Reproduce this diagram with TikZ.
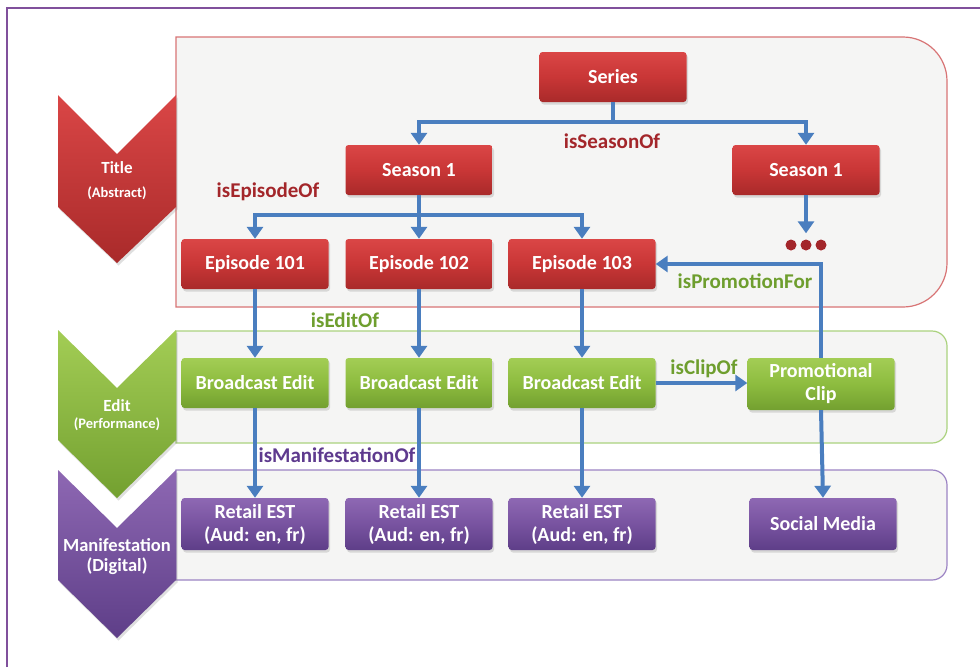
\documentclass[tikz,border=0pt]{standalone}
\usepackage{fontspec}
\setmainfont{Carlito}
\usetikzlibrary{arrows.meta,shadows}
\definecolor{redTop}{HTML}{DA4646}
\definecolor{redMid}{HTML}{C93636}
\definecolor{redBot}{HTML}{A92A2A}
\definecolor{grnTop}{HTML}{A3CD55}
\definecolor{grnMid}{HTML}{8DBC3F}
\definecolor{grnBot}{HTML}{73A030}
\definecolor{purTop}{HTML}{8E68B3}
\definecolor{purMid}{HTML}{7853A0}
\definecolor{purBot}{HTML}{5E3E88}
\definecolor{bandFill}{HTML}{F5F5F4}
\definecolor{redLine}{HTML}{D87475}
\definecolor{grnLine}{HTML}{ABD27E}
\definecolor{purLine}{HTML}{9C84C4}
\definecolor{frameLine}{HTML}{80509C}
\definecolor{arrBlue}{HTML}{4A7EBF}
\definecolor{lblRed}{HTML}{A3262A}
\definecolor{lblGrn}{HTML}{6E9E2E}
\definecolor{lblPur}{HTML}{5E3A8E}
\tikzset{
  box/.style={minimum width=147pt, minimum height=50pt, rounded corners=3pt,
    text=white, align=center, inner sep=0pt,
    font=\fontsize{20}{23}\selectfont\bfseries,
    drop shadow={opacity=0.25, shadow xshift=1.5pt, shadow yshift=-2.5pt}},
  redbox/.style={box, top color=redTop, bottom color=redBot, middle color=redMid},
  grnbox/.style={box, top color=grnTop, bottom color=grnBot, middle color=grnMid},
  purbox/.style={box, top color=purTop, bottom color=purBot, middle color=purMid},
  arr/.style={draw=arrBlue, line width=4pt, -{Triangle[width=16pt,length=12pt]}},
  lbl/.style={font=\fontsize{21}{24}\selectfont\bfseries, inner sep=0pt},
  chevtitle/.style={text=white, font=\fontsize{17}{19}\selectfont\bfseries, inner sep=0pt},
  chevsub/.style={text=white, font=\fontsize{14.5}{16}\selectfont\bfseries, inner sep=0pt},
  chevbig/.style={text=white, font=\fontsize{18.5}{20}\selectfont\bfseries, inner sep=0pt},
}
\begin{document}
\begin{tikzpicture}[x=1pt,y=-1pt]
\useasboundingbox (0,0) rectangle (980,667);
\fill[white] (0,0) rectangle (980,667);
% outer frame
\draw[frameLine, line width=1.5pt] (7,667) -- (7,8) -- (980,8);

% bands
\draw[redLine, line width=1.2pt, fill=bandFill]
  (176,307) -- (176,37) -- (903,37) .. controls (927.3,37) and (947,56.7) .. (947,81)
  -- (947,263) .. controls (947,287.3) and (927.3,307) .. (903,307) -- cycle;
\draw[grnLine, line width=1.2pt, fill=bandFill]
  (176,443) -- (176,331) -- (932,331) .. controls (940.3,331) and (947,337.7) .. (947,346)
  -- (947,428) .. controls (947,436.3) and (940.3,443) .. (932,443) -- cycle;
\draw[purLine, line width=1.2pt, fill=bandFill]
  (176,580) -- (176,470) -- (932,470) .. controls (940.3,470) and (947,476.7) .. (947,485)
  -- (947,565) .. controls (947,573.3) and (940.3,580) .. (932,580) -- cycle;

% chevrons
\shade[top color=redTop, bottom color=redBot, drop shadow={opacity=0.25, shadow xshift=1.5pt, shadow yshift=-2.5pt}]
  (58,95) -- (117,154) -- (176,95) -- (176,207) -- (117,263) -- (58,207) -- cycle;
\shade[top color=grnTop, bottom color=grnBot, drop shadow={opacity=0.25, shadow xshift=1.5pt, shadow yshift=-2.5pt}]
  (58,330) -- (117,388) -- (176,330) -- (176,440) -- (117,498) -- (58,440) -- cycle;
\shade[top color=purTop, bottom color=purBot, drop shadow={opacity=0.25, shadow xshift=1.5pt, shadow yshift=-2.5pt}]
  (58,470) -- (117,528) -- (176,470) -- (176,580) -- (117,638) -- (58,580) -- cycle;
\node[chevtitle] (ttl) at (117,168) {Title};
\node[chevsub] (ttlsub) at (117,193) {(Abstract)};
\node[chevtitle] (edt) at (117,406) {Edit};
\node[chevsub] (edtsub) at (117,424) {(Performance)};
\node[chevbig] (man) at (117,545) {Manifestation};
\node[chevbig] (mansub) at (117,566) {(Digital)};

% red nodes
\node[redbox] (series) at (613,77) {Series};
\node[redbox] (sa) at (419,170) {Season 1};
\node[redbox] (sb) at (806,170) {Season 1};
\node[redbox] (e101) at (255,264) {Episode 101};
\node[redbox] (e102) at (419,264) {Episode 102};
\node[redbox] (e103) at (582,264) {Episode 103};
\node[inner sep=0pt, minimum width=42pt, minimum height=11pt] (dots) at (806,245) {};
\fill[lblRed] ([xshift=-15pt]dots.center) circle (5.5pt) (dots.center) circle (5.5pt) ([xshift=15pt]dots.center) circle (5.5pt);

% green nodes
\node[grnbox] (be1) at (255,383) {Broadcast Edit};
\node[grnbox] (be2) at (419,383) {Broadcast Edit};
\node[grnbox] (be3) at (582,383) {Broadcast Edit};
\node[grnbox, minimum height=52pt] (promo) at (821,384) {Promotional\\Clip};

% purple nodes
\node[purbox, minimum height=52pt] (r1) at (255,524) {Retail EST\\(Aud: en, fr)};
\node[purbox, minimum height=52pt] (r2) at (419,524) {Retail EST\\(Aud: en, fr)};
\node[purbox, minimum height=52pt] (r3) at (582,524) {Retail EST\\(Aud: en, fr)};
\node[purbox, minimum height=52pt] (social) at (823,524) {Social Media};

% connectors
\draw[arr] (series.south) -- ++(0,20) -| (sa.north);
\draw[arr] (series.south) -- ++(0,20) -| (sb.north);
\draw[arr] (sa.south) -- ++(0,20) -| (e101.north);
\draw[arr] (sa.south) -- (e102.north);
\draw[arr] (sa.south) -- ++(0,20) -| (e103.north);
\draw[arr] (sb.south) -- ([yshift=6pt]dots.north);
\draw[arr] (e101.south) -- (be1.north);
\draw[arr] (e102.south) -- (be2.north);
\draw[arr] (e103.south) -- (be3.north);
\draw[arr] (be1.south) -- (r1.north);
\draw[arr] (be2.south) -- (r2.north);
\draw[arr] (be3.south) -- (r3.north);
\draw[arr] (be3.east) -- (be3.east -| promo.west);
\draw[arr] (promo.north) |- (e103.east);
\draw[arr] (promo.south) -- (social.north);

% labels
\node[lbl, text=lblRed] (lSeason) at (612,141) {isSeasonOf};
\node[lbl, text=lblRed] (lEpisode) at (268,192) {isEpisodeOf};
\node[lbl, text=lblGrn] (lEdit) at (345,320) {isEditOf};
\node[lbl, text=lblPur] (lManif) at (337,455) {isManifestationOf};
\node[lbl, text=lblGrn] (lClip) at (704,369) {isClipOf};
\node[lbl, text=lblGrn] (lPromo) at (745,281) {isPromotionFor};
\end{tikzpicture}
\end{document}
